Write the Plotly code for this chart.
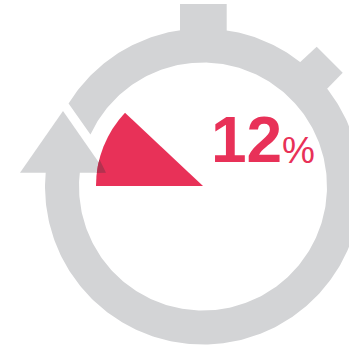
import numpy as np
import plotly.graph_objects as go

# Share of the dial filled in red, and its label
share_pct = 12
share_label = "12"
unit_label = "%"

GREY = "#d3d4d6"
RED = "#e83158"
OVERLAP = "#b2324f"
W, H = 349, 348

# Dial geometry, in page pixels
cx, cy = 203, 186.5
ring_outer, ring_inner = 158, 124
wedge_radius = 107


def polar_xy(radius, clock_deg):
    a = np.radians(clock_deg)
    return cx + radius * np.sin(a), cy - radius * np.cos(a)


# Ring runs anticlockwise from inside the arrow head, round the bottom, to the cut
deg_outer = np.linspace(276, -58.3, 360)
deg_inner = np.linspace(-65.2, 277.5, 360)
ox, oy = polar_xy(ring_outer, deg_outer)
ix, iy = polar_xy(ring_inner, deg_inner)
ring_x = np.r_[ox, ix, ox[0]]
ring_y = np.r_[oy, iy, oy[0]]

arrow_x = [63, 106, 20, 63]
arrow_y = [111, 172.7, 172.7, 111]
knob_top_x = [180, 226.7, 226.7, 180, 180]
knob_top_y = [4, 4, 32, 32, 4]
knob_side_x = [316.7, 342.7, 322.7, 296, 316.7]
knob_side_y = [46.7, 72.7, 93.3, 66, 46.7]

fig = go.Figure()
for xs, ys in [(ring_x, ring_y), (arrow_x, arrow_y),
               (knob_top_x, knob_top_y), (knob_side_x, knob_side_y)]:
    fig.add_trace(go.Scatter(x=xs, y=ys, mode="lines", fill="toself",
                             fillcolor=GREY, line=dict(width=0),
                             hoverinfo="skip", showlegend=False))

# The filled share: a pie slice starting at nine o'clock, running clockwise
fig.add_trace(go.Pie(
    values=[share_pct, 100 - share_pct],
    rotation=270, direction="clockwise", sort=False,
    marker=dict(colors=[RED, "rgba(0,0,0,0)"], line=dict(width=0)),
    textinfo="none", hoverinfo="skip", showlegend=False,
    domain=dict(x=[(cx - wedge_radius) / W, (cx + wedge_radius) / W],
                y=[1 - (186 + wedge_radius) / H, 1 - (186 - wedge_radius) / H]),
))

# Where the slice crosses the arrow head the two colours darken
overlap_deg = np.linspace(277, 284.5, 8)
ovx = cx + wedge_radius * np.sin(np.radians(overlap_deg))
ovy = 186 - wedge_radius * np.cos(np.radians(overlap_deg))
path = "M106,172.7 L" + " L".join(f"{x:.1f},{y:.1f}" for x, y in zip(ovx, ovy)) + " Z"

fig.update_layout(
    width=W, height=H, margin=dict(l=0, r=0, t=0, b=0),
    paper_bgcolor="white", plot_bgcolor="white",
    xaxis=dict(range=[0, W], visible=False, fixedrange=True),
    yaxis=dict(range=[H, 0], visible=False, fixedrange=True),
    shapes=[dict(type="path", path=path, fillcolor=OVERLAP,
                 line=dict(width=0), layer="above")],
    annotations=[
        dict(x=208.5, y=139.5, text=f"<b>{share_label}</b>", showarrow=False,
             xanchor="left", yanchor="middle",
             font=dict(family="Liberation Sans", size=64, color=RED)),
        dict(x=280, y=150.5, text=unit_label, showarrow=False,
             xanchor="left", yanchor="middle",
             font=dict(family="Liberation Sans", size=37, color=RED)),
    ],
)

fig.write_html("out.html", config=dict(displayModeBar=False))
